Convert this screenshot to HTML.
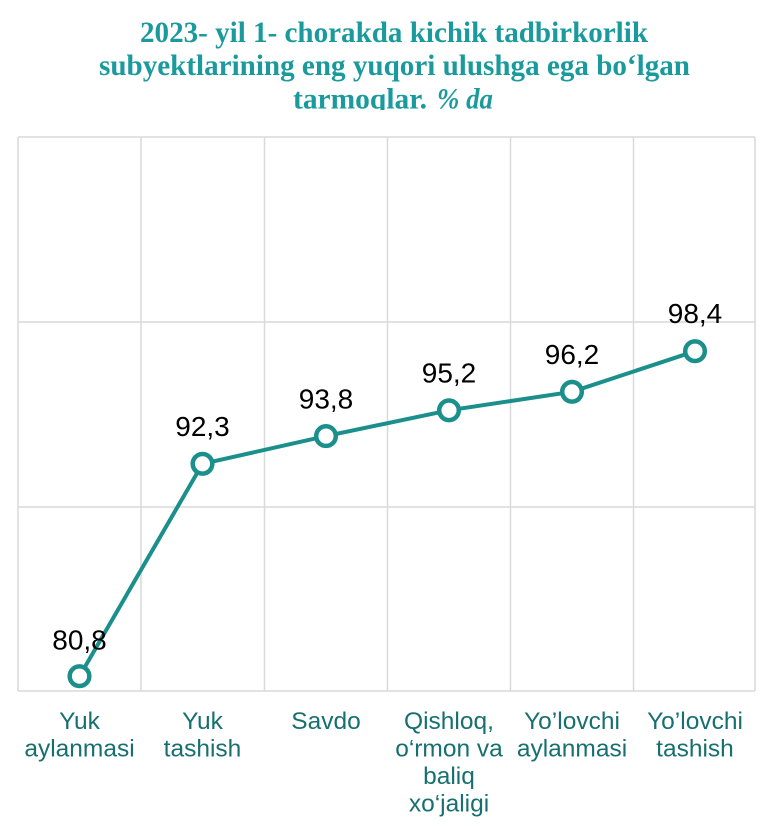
<!DOCTYPE html>
<html><head><meta charset="utf-8"><style>
html,body{margin:0;padding:0;background:#fff;}
svg{display:block;}
</style></head><body>
<svg width="759" height="834" viewBox="0 0 759 834" xmlns="http://www.w3.org/2000/svg">
<defs><clipPath id="tc"><rect x="0" y="0" width="759" height="110"/></clipPath></defs>
<g clip-path="url(#tc)" font-family="'Liberation Serif', serif" font-weight="bold" font-size="30" fill="#1a9a9c">
<text x="140" y="42" textLength="508" lengthAdjust="spacingAndGlyphs">2023- yil 1- chorakda kichik tadbirkorlik</text>
<text x="99" y="75" textLength="591" lengthAdjust="spacingAndGlyphs">subyektlarining eng yuqori ulushga ega bo‘lgan</text>
<text x="293" y="108.5" textLength="134" lengthAdjust="spacingAndGlyphs">tarmoqlar.</text>
<text x="437" y="108.5" font-style="italic" textLength="56" lengthAdjust="spacingAndGlyphs">% da</text>
</g>
<g stroke="#d9d9d9" stroke-width="1.5" fill="none">
<line x1="18" y1="137" x2="755" y2="137"/>
<line x1="18" y1="322" x2="755" y2="322"/>
<line x1="18" y1="507" x2="755" y2="507"/>
<line x1="18" y1="691" x2="755" y2="691"/>
<line x1="18" y1="137" x2="18" y2="691"/>
<line x1="141" y1="137" x2="141" y2="691"/>
<line x1="264.5" y1="137" x2="264.5" y2="691"/>
<line x1="387.5" y1="137" x2="387.5" y2="691"/>
<line x1="510.5" y1="137" x2="510.5" y2="691"/>
<line x1="633.5" y1="137" x2="633.5" y2="691"/>
<line x1="755" y1="137" x2="755" y2="691"/>
</g>
<polyline points="79.5,676.2 202.5,463.8 326,436.1 449,410.3 572,391.8 695,351.2" fill="none" stroke="#1a8f8c" stroke-width="4" stroke-linejoin="round"/>
<g fill="#fff" stroke="#1a8f8c" stroke-width="4.5">
<circle cx="79.5" cy="676.2" r="9.8"/>
<circle cx="202.5" cy="463.8" r="9.8"/>
<circle cx="326" cy="436.1" r="9.8"/>
<circle cx="449" cy="410.3" r="9.8"/>
<circle cx="572" cy="391.8" r="9.8"/>
<circle cx="695" cy="351.2" r="9.8"/>
</g>
<g font-family="'Liberation Sans', sans-serif" font-size="28" fill="#000" text-anchor="middle">
<text x="79.5" y="649.5">80,8</text>
<text x="202.5" y="436">92,3</text>
<text x="326" y="408.5">93,8</text>
<text x="449" y="382.5">95,2</text>
<text x="572" y="364">96,2</text>
<text x="695" y="323">98,4</text>
</g>
<g font-family="'Liberation Sans', sans-serif" font-size="24.5" fill="#17706f" text-anchor="middle">
<text x="79.5" y="729">Yuk</text>
<text x="79.5" y="756.5">aylanmasi</text>
<text x="202.5" y="729">Yuk</text>
<text x="202.5" y="756.5">tashish</text>
<text x="326" y="729">Savdo</text>
<text x="449" y="729">Qishloq,</text>
<text x="449" y="756.5">o‘rmon va</text>
<text x="449" y="784">baliq</text>
<text x="449" y="811.5">xo‘jaligi</text>
<text x="572" y="729">Yo’lovchi</text>
<text x="572" y="756.5">aylanmasi</text>
<text x="695" y="729">Yo’lovchi</text>
<text x="695" y="756.5">tashish</text>
</g>
</svg>
</body></html>
